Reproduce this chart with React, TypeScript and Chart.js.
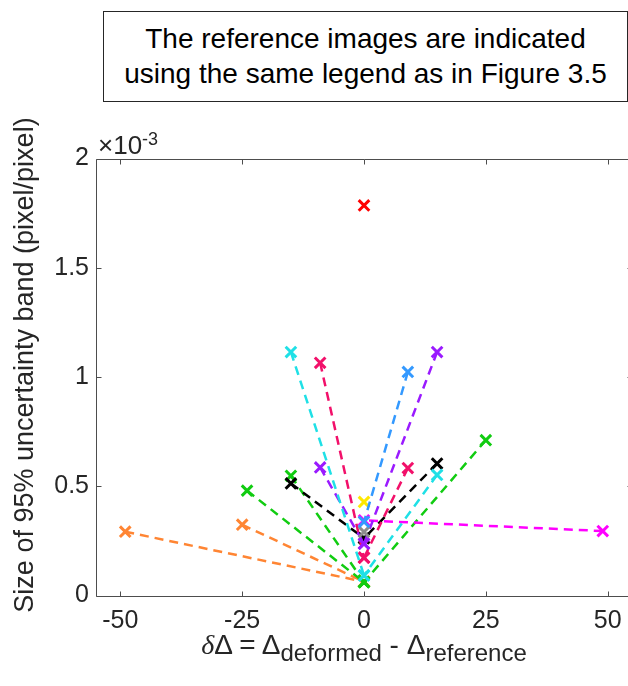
import React, { useEffect, useRef } from 'react';
import { Chart, registerables } from 'chart.js';

Chart.register(...registerables);

// Axis ticks
const xTickValues = [-50, -25, 0, 25, 50];
const yTickValues = [0, 0.5, 1, 1.5, 2];
const xRange = [-55, 55];
const yRange = [0, 2];

// Reference images (δΔ = 0): size of 95% uncertainty band (×10^-3)
const refNames = ['cyan', 'blue', 'yellow', 'gray', 'purple', 'crimson', 'black', 'magenta', 'green', 'orange', 'red'];
const refSizes = [0.092, 0.337, 0.428, 0.291, 0.237, 0.173, 0.262, 0.344, 0.061, 0.063, 1.785];

// Deformed images for each reference: δΔ and size (×10^-3)
const cyanDelta = [-15, 15];
const cyanSize = [1.114, 0.552];
const blueDelta = [9];
const blueSize = [1.023];
const yellowDelta: number[] = [];
const yellowSize: number[] = [];
const grayDelta: number[] = [];
const graySize: number[] = [];
const purpleDelta = [-9, 15];
const purpleSize = [0.586, 1.114];
const crimsonDelta = [-9, 9];
const crimsonSize = [1.065, 0.583];
const blackDelta = [-15, 15];
const blackSize = [0.513, 0.604];
const magentaDelta = [49];
const magentaSize = [0.295];
const greenDelta = [-24, -15, 25];
const greenSize = [0.480, 0.548, 0.711];
const orangeDelta = [-49, -25];
const orangeSize = [0.292, 0.324];
const redDelta: number[] = [];
const redSize: number[] = [];

// Styles
const seriesColors: Record<string, string> = {
  cyan: '#1fe0e6',
  blue: '#3399ff',
  yellow: '#ffe800',
  gray: '#8c8c8c',
  purple: '#9a1aff',
  crimson: '#f2106a',
  black: '#000000',
  magenta: '#ff00ff',
  green: '#11cc11',
  orange: '#ff8533',
  red: '#ff0000',
};

const deformed: Record<string, [number[], number[]]> = {
  cyan: [cyanDelta, cyanSize],
  blue: [blueDelta, blueSize],
  yellow: [yellowDelta, yellowSize],
  gray: [grayDelta, graySize],
  purple: [purpleDelta, purpleSize],
  crimson: [crimsonDelta, crimsonSize],
  black: [blackDelta, blackSize],
  magenta: [magentaDelta, magentaSize],
  green: [greenDelta, greenSize],
  orange: [orangeDelta, orangeSize],
  red: [redDelta, redSize],
};

const FONT = '"Liberation Sans", Arial, Helvetica, sans-serif';
const AXIS_COLOR = '#262626';
const FRAME_COLOR = '#4d4d4d';
const CANVAS_W = 720;
const RIGHT_PAD = 88; // chart area ends just beyond the visible 628px window

function buildDatasets() {
  const sets: any[] = [];
  refNames.forEach((name, i) => {
    const color = seriesColors[name];
    const [dx, dy] = deformed[name];
    const base = {
      borderColor: color,
      backgroundColor: color,
      pointBorderColor: color,
      pointBackgroundColor: color,
      pointStyle: 'crossRot',
      pointRadius: 7.5,
      pointHoverRadius: 7.5,
      pointBorderWidth: 3,
      borderWidth: 2.5,
      borderDash: [9, 6],
      showLine: true,
      clip: false,
    };
    if (dx.length === 0) {
      sets.push({ ...base, label: name, data: [{ x: 0, y: refSizes[i] }], showLine: false });
    } else {
      dx.forEach((d, k) => {
        sets.push({
          ...base,
          label: name + ' ' + d,
          data: [
            { x: d, y: dy[k] },
            { x: 0, y: refSizes[i] },
          ],
        });
      });
    }
  });
  return sets;
}

const framePlugin = {
  id: 'matlabFrame',
  afterDraw(chart: any) {
    const { ctx, chartArea: a, scales } = chart;
    const l = Math.round(a.left) + 0.5;
    const r = Math.round(a.right) + 0.5;
    const t = Math.round(a.top) + 0.5;
    const b = Math.round(a.bottom) + 0.5;
    const tl = 5;
    ctx.save();
    ctx.strokeStyle = FRAME_COLOR;
    ctx.lineWidth = 1;
    ctx.setLineDash([]);
    ctx.beginPath();
    ctx.rect(l, t, r - l, b - t);
    xTickValues.forEach((v) => {
      const px = Math.round(scales.x.getPixelForValue(v)) + 0.5;
      ctx.moveTo(px, b);
      ctx.lineTo(px, b - tl);
      ctx.moveTo(px, t);
      ctx.lineTo(px, t + tl);
    });
    yTickValues.forEach((v) => {
      const py = Math.round(scales.y.getPixelForValue(v)) + 0.5;
      ctx.moveTo(l, py);
      ctx.lineTo(l + tl, py);
      ctx.moveTo(r, py);
      ctx.lineTo(r - tl, py);
    });
    ctx.stroke();
    ctx.restore();
  },
};

export default function App() {
  const canvasRef = useRef<HTMLCanvasElement>(null);

  useEffect(() => {
    if (!canvasRef.current) return;
    Chart.defaults.font.family = FONT;
    const chart = new Chart(canvasRef.current, {
      type: 'scatter',
      data: { datasets: buildDatasets() },
      options: {
        animation: false,
        responsive: false,
        devicePixelRatio: 1,
        layout: { padding: { top: 158.5, right: RIGHT_PAD, bottom: 0, left: 0 } },
        plugins: {
          legend: { display: false },
          tooltip: { enabled: false },
          title: { display: false },
        },
        scales: {
          x: {
            type: 'linear',
            min: xRange[0],
            max: xRange[1],
            afterBuildTicks: (s: any) => {
              s.ticks = xTickValues.map((v) => ({ value: v }));
            },
            afterFit: (s: any) => {
              s.height = 90.5;
            },
            grid: { display: false, drawTicks: false },
            border: { display: false },
            ticks: {
              padding: 11,
              color: AXIS_COLOR,
              font: { family: FONT, size: 25 },
              maxRotation: 0,
              autoSkip: false,
              callback: (v: any) => String(v),
            },
          },
          y: {
            type: 'linear',
            min: yRange[0],
            max: yRange[1],
            afterBuildTicks: (s: any) => {
              s.ticks = yTickValues.map((v) => ({ value: v }));
            },
            afterFit: (s: any) => {
              s.width = 96;
            },
            grid: { display: false, drawTicks: false },
            border: { display: false },
            ticks: {
              padding: 7,
              color: AXIS_COLOR,
              font: { family: FONT, size: 25 },
              autoSkip: false,
              callback: (v: any) => String(v),
            },
          },
        },
      },
      plugins: [framePlugin],
    } as any);
    return () => chart.destroy();
  }, []);

  const subStyle: React.CSSProperties = {
    fontSize: 24,
    position: 'relative',
    top: 7,
    lineHeight: 0,
  };

  return (
    <div
      style={{
        position: 'fixed',
        left: 0,
        top: 0,
        width: 628,
        height: 686,
        overflow: 'hidden',
        background: '#ffffff',
        fontFamily: FONT,
      }}
    >
      <canvas
        ref={canvasRef}
        width={CANVAS_W}
        height={686}
        style={{ position: 'absolute', left: 0, top: 0, display: 'block' }}
      />
      <div
        style={{
          position: 'absolute',
          left: 103,
          top: 11,
          width: 525,
          height: 91,
          boxSizing: 'border-box',
          border: '1px solid #262626',
          background: '#ffffff',
          fontSize: 28,
          lineHeight: '35px',
          textAlign: 'center',
          color: '#000000',
          paddingTop: 9,
          whiteSpace: 'nowrap',
        }}
      >
        The reference images are indicated
        <br />
        using the same legend as in Figure 3.5
      </div>
      <div
        style={{
          position: 'absolute',
          left: 98,
          top: 130,
          fontSize: 26,
          lineHeight: '30px',
          color: AXIS_COLOR,
          whiteSpace: 'nowrap',
        }}
      >
        ×10<span style={{ fontSize: 18, position: 'relative', top: -9 }}>-3</span>
      </div>
      <div
        style={{
          position: 'absolute',
          left: 8,
          top: 65,
          width: 32,
          height: 600,
          overflow: 'hidden',
        }}
      >
        <div
          style={{
            position: 'absolute',
            left: -284,
            top: 284,
            width: 600,
            height: 32,
            lineHeight: '32px',
            textAlign: 'center',
            fontSize: 27,
            color: AXIS_COLOR,
            whiteSpace: 'nowrap',
            transform: 'rotate(-90deg)',
            transformOrigin: '50% 50%',
          }}
        >
          Size of 95% uncertainty band (pixel/pixel)
        </div>
      </div>
      <div
        style={{
          position: 'absolute',
          left: 96,
          top: 630,
          width: 536,
          height: 50,
          textAlign: 'center',
          fontSize: 28,
          lineHeight: '30px',
          color: AXIS_COLOR,
          whiteSpace: 'nowrap',
        }}
      >
        <span style={{ fontFamily: '"Liberation Serif", "DejaVu Serif", serif', fontStyle: 'italic' }}>δ</span>Δ = Δ
        <span style={subStyle}>deformed</span> - Δ<span style={subStyle}>reference</span>
      </div>
    </div>
  );
}
